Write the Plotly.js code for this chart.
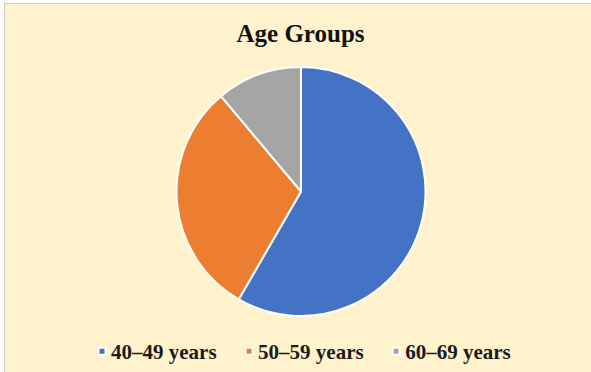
<!DOCTYPE html>
<html>
<head>
<meta charset="utf-8">
<script src="https://cdn.plot.ly/plotly-3.0.1.min.js"></script>
<style>
html, body { margin: 0; padding: 0; background: #ffffff; width: 591px; height: 372px; overflow: hidden; }
#frame { position: absolute; left: 4px; top: 3px; width: 587px; height: 369px;
  border-left: 1px solid #c9c9c9; border-top: 1px solid #c9c9c9; background: #FFF2CC; }
#chart { width: 587px; height: 369px; }
</style>
</head>
<body>
<div id="frame"><div id="chart"></div></div>
<script>
const categories = ["40–49 years", "50–59 years", "60–69 years"];
const counts = [21, 11, 4];
const colors = ["#4472C4", "#ED7D31", "#A5A5A5"];

const W = 587, H = 369;
const cx = 296, cy = 187.5, r = 124.5;

const trace = {
  type: "pie",
  labels: categories,
  values: counts,
  sort: false,
  direction: "clockwise",
  rotation: 0,
  textinfo: "none",
  hoverinfo: "label+value+percent",
  marker: { colors: colors, line: { color: "#ffffff", width: 2 } },
  domain: { x: [(cx - r) / W, (cx + r) / W], y: [1 - (cy + r) / H, 1 - (cy - r) / H] }
};

const layout = {
  width: W, height: H,
  margin: { l: 0, r: 0, t: 0, b: 0 },
  paper_bgcolor: "#FFF2CC",
  plot_bgcolor: "#FFF2CC",
  title: {
    text: "<b>Age Groups</b>",
    font: { family: "Liberation Serif, Times New Roman, serif", size: 25, color: "#111111" },
    x: 295.5 / W, xanchor: "center",
    xref: "container", yref: "container",
    y: 1 - 20 / H, yanchor: "top"
  },
  showlegend: true,
  legend: {
    orientation: "h",
    x: 66 / W, xanchor: "left",
    y: 1 - 327 / H, yanchor: "top",
    font: { family: "Liberation Serif, Times New Roman, serif", size: 21, color: "#1a1a1a" },
    bgcolor: "rgba(0,0,0,0)",
    traceorder: "normal"
  }
};

Plotly.newPlot("chart", [trace], layout, { displayModeBar: false, staticPlot: true }).then(function (gd) {
  gd.querySelectorAll(".legendtext").forEach(function (t) { t.style.fontWeight = "bold"; });
  // Smaller legend swatches placed closer to their labels, as in the reference
  gd.querySelectorAll(".legendpoints").forEach(function (g) {
    g.setAttribute("transform", "translate(11,0)");
    g.querySelectorAll("path").forEach(function (p) {
      p.setAttribute("d", "M3.5,3.5H-3.5V-3.5H3.5Z");
    });
  });
});
</script>
</body>
</html>
